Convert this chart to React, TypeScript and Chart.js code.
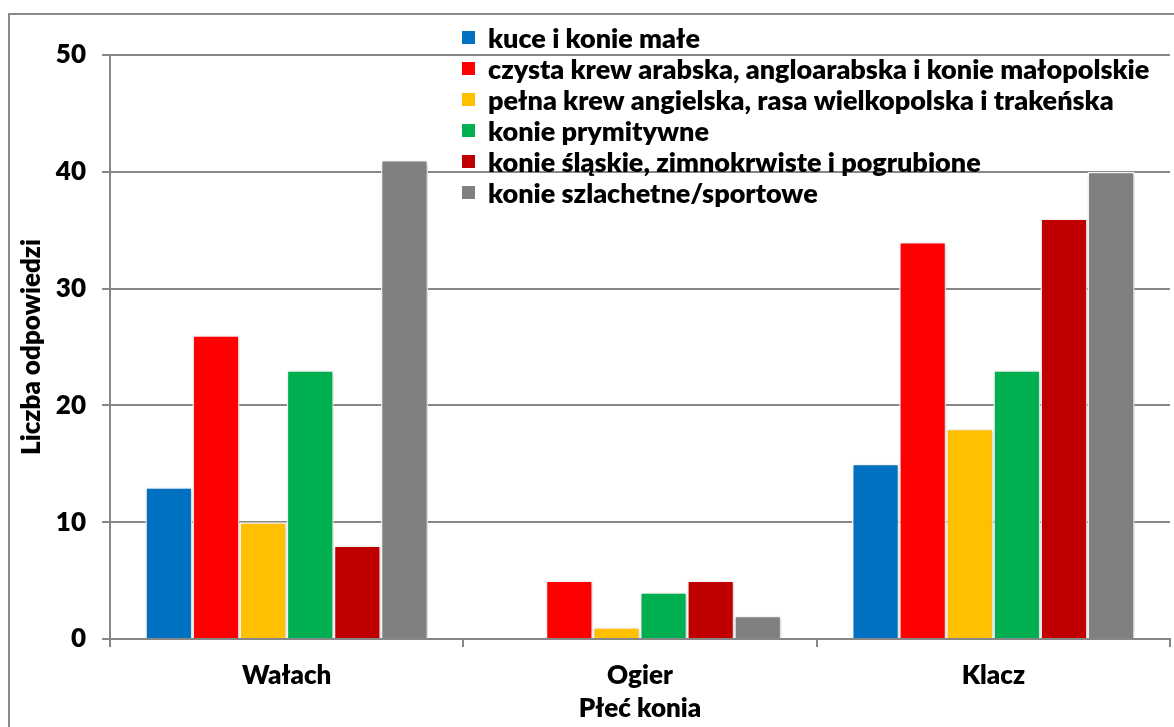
import React, { useEffect, useRef } from "react";
import { Chart, registerables } from "chart.js";

Chart.register(...registerables);

const categories = ["Wałach", "Ogier", "Klacz"];
const seriesLabels = [
  "kuce i konie małe",
  "czysta krew arabska, angloarabska i konie małopolskie",
  "pełna krew angielska, rasa wielkopolska i trakeńska",
  "konie prymitywne",
  "konie śląskie, zimnokrwiste i pogrubione",
  "konie szlachetne/sportowe",
];
const kuce = [13, 0, 15];
const arabska = [26, 5, 34];
const pelnaKrew = [10, 1, 18];
const prymitywne = [23, 4, 23];
const slaskie = [8, 5, 36];
const szlachetne = [41, 2, 40];
const seriesValues = [kuce, arabska, pelnaKrew, prymitywne, slaskie, szlachetne];
const seriesColors = ["#0070C0", "#FF0000", "#FFC000", "#00B050", "#C00000", "#808080"];
const yTicks = [0, 10, 20, 30, 40, 50];

const FONT = "Lato, 'Open Sans', sans-serif";
const WEIGHT = "800";
const GRID = "#878787";

const legendPlugin = {
  id: "insideLegend",
  afterDraw(chart: any) {
    const ctx = chart.ctx;
    ctx.save();
    const x0 = 462;
    const y0 = 38;
    const step = 31;
    ctx.font = `${WEIGHT} 27px ${FONT}`;
    ctx.textBaseline = "middle";
    ctx.textAlign = "left";
    chart.data.datasets.forEach((ds: any, i: number) => {
      const cy = y0 + i * step;
      ctx.fillStyle = "#ffffff";
      ctx.fillRect(x0 - 1, cy - 8, 15, 15);
      ctx.fillStyle = ds.backgroundColor;
      ctx.fillRect(x0, cy - 7, 13, 13);
      ctx.fillStyle = "#000000";
      ctx.fillText(ds.label, x0 + 26, cy + 1);
    });
    ctx.restore();
  },
};

const shadowPlugin = {
  id: "barShadow",
  beforeDatasetsDraw(chart: any) {
    const ctx = chart.ctx;
    ctx.save();
    ctx.shadowColor = "rgba(0,0,0,0.22)";
    ctx.shadowBlur = 4;
    ctx.shadowOffsetX = 1;
    ctx.shadowOffsetY = 1;
  },
  afterDatasetsDraw(chart: any) {
    chart.ctx.restore();
  },
};

export default function App() {
  const ref = useRef<HTMLCanvasElement | null>(null);

  useEffect(() => {
    document.body.style.margin = "0";
    document.body.style.overflow = "hidden";
    if (!ref.current) return;
    const chart = new Chart(ref.current, {
      type: "bar",
      data: {
        labels: categories,
        datasets: seriesLabels.map((label, i) => ({
          label,
          data: seriesValues[i],
          backgroundColor: seriesColors[i],
          borderColor: "#ffffff",
          borderWidth: 1.5,
          barPercentage: 1.0,
          categoryPercentage: 0.8,
        })),
      },
      options: {
        animation: false,
        responsive: false,
        maintainAspectRatio: false,
        layout: { padding: { top: 55, right: 4, left: 0, bottom: 0 } },
        plugins: {
          legend: { display: false },
          tooltip: { enabled: false },
        },
        scales: {
          x: {
            afterFit: (s: any) => {
              s.height = 88;
            },
            grid: {
              drawOnChartArea: false,
              drawTicks: true,
              tickLength: 8,
              color: GRID,
              lineWidth: 2,
              offset: true,
            },
            border: { display: true, color: GRID, width: 2 },
            ticks: {
              color: "#000",
              font: { family: FONT, size: 26, weight: WEIGHT },
              padding: 13,
            },
            title: {
              display: true,
              text: "Płeć konia",
              color: "#000",
              font: { family: FONT, size: 26, weight: WEIGHT, lineHeight: 1.2 },
              padding: { top: 0, bottom: 3 },
            },
          },
          y: {
            min: 0,
            max: 50,
            afterFit: (s: any) => {
              s.width = 110;
            },
            afterBuildTicks: (s: any) => {
              s.ticks = yTicks.map((v) => ({ value: v }));
            },
            grid: {
              color: GRID,
              lineWidth: 2,
              tickLength: 8,
            },
            border: { display: true, color: GRID, width: 2 },
            ticks: {
              color: "#000",
              font: { family: FONT, size: 26, weight: WEIGHT },
              padding: 16,
            },
            title: {
              display: true,
              text: "Liczba odpowiedzi",
              color: "#000",
              font: { family: FONT, size: 26, weight: WEIGHT, lineHeight: 1.2 },
              padding: { top: 16, bottom: 0 },
            },
          },
        },
      },
      plugins: [shadowPlugin, legendPlugin],
    });
    return () => chart.destroy();
  }, []);

  return (
    <div style={{ position: "relative", width: 1174, height: 727, overflow: "hidden" }}>
      <div
        style={{
          position: "absolute",
          left: 8,
          top: 13,
          right: -10,
          bottom: -10,
          borderTop: "2px solid #898989",
          borderLeft: "2px solid #898989",
        }}
      />
      <canvas
        ref={ref}
        width={1174}
        height={727}
        style={{ position: "absolute", left: 0, top: 0, width: 1174, height: 727 }}
      />
    </div>
  );
}
